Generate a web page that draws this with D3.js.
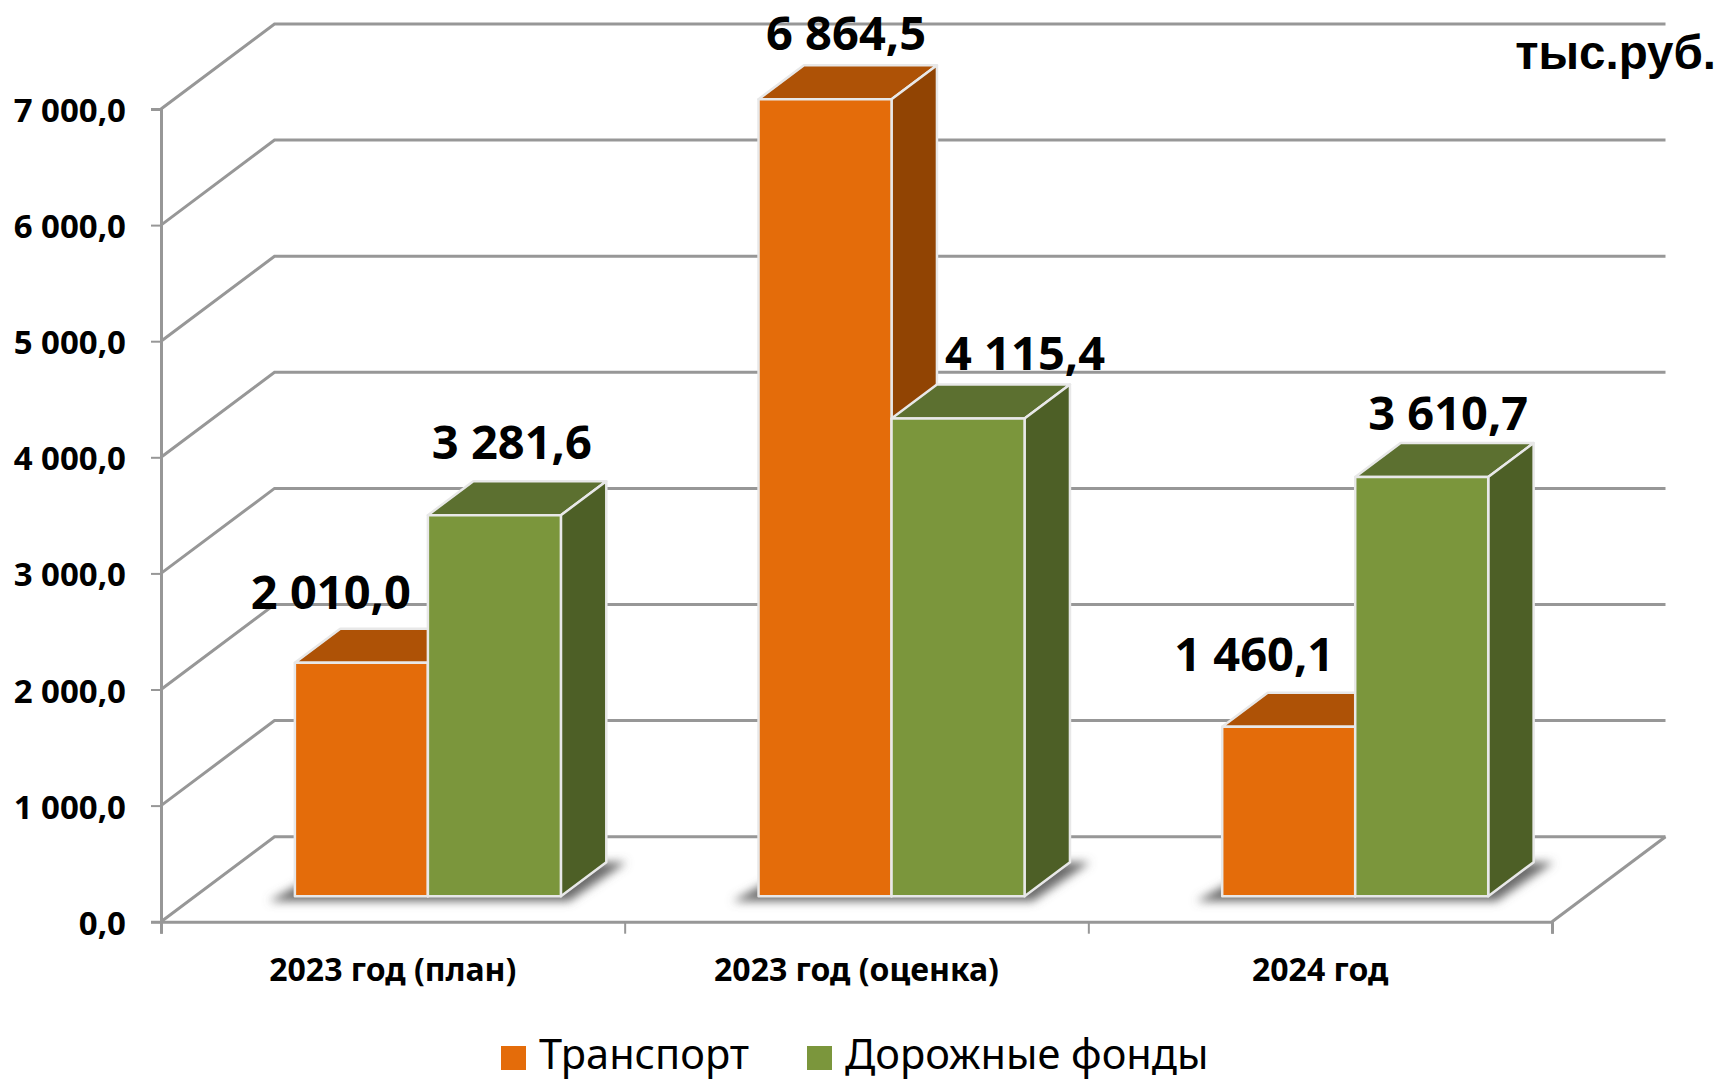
<!DOCTYPE html>
<html>

<head>
    <meta charset="utf-8">
    <title>Транспорт и дорожные фонды</title>
    <script src="https://d3js.org/d3.v7.min.js"></script>
    <style>
        body { margin: 0; background: #fff; }
        text { font-family: "Noto Sans", sans-serif; fill: #000; }
    </style>
</head>

<body>
    <div id="chart"></div>
    <script>
        const categories = ["2023 год (план)", "2023 год (оценка)", "2024 год"];
        const seriesNames = ["Транспорт", "Дорожные фонды"];
        const transport = [2010.0, 6864.5, 1460.1];
        const roadFunds = [3281.6, 4115.4, 3610.7];
        const yTicks = [0, 1000, 2000, 3000, 4000, 5000, 6000, 7000];

        const width = 1720, height = 1081;
        const floorDx = 113.5, floorDy = 85;      // глубина пола
        const frontDepth = 0.3, backDepth = 0.7;  // где стоят столбцы на полу
        const barNudge = 1;

        const colors = [
            { front: "#e46c0a", top: "#ae5206", side: "#914403" },
            { front: "#7b963c", top: "#5c7030", side: "#4d5f26" }
        ];
        // подписи в оригинале сдвинуты вручную: [dx от центра столбца, dy от верха]
        const labelShift = [
            [[-30.5, -54], [17.5, -56]],
            [[21, -49], [67, -48]],
            [[-34.5, -56], [26.5, -47]]
        ];

        const locale = d3.formatLocale({ decimal: ",", thousands: " ", grouping: [3], currency: ["", ""] });
        const fmt = locale.format(",.1f");

        const x = d3.scaleBand().domain(categories).range([161, 1552]).padding(0);
        const inner = d3.scaleBand().domain(seriesNames).range([0, x.bandwidth()])
            .paddingInner(0).paddingOuter(0.743);
        const y = d3.scaleLinear().domain([0, 7000]).range([921.7, 109]);
        const edges = d3.scalePoint().domain(d3.range(categories.length + 1)).range(x.range());

        const svg = d3.select("#chart").append("svg")
            .attr("width", width).attr("height", height)
            .style("display", "block");

        const blur = svg.append("defs").append("filter")
            .attr("id", "shadow").attr("x", "-30%").attr("y", "-60%")
            .attr("width", "160%").attr("height", "220%");
        blur.append("feGaussianBlur").attr("stdDeviation", 5);

        const gridColor = "#979797";
        const [x0, x1] = x.range();

        // 1. сетка: стена и левая боковина
        const grid = svg.append("g").attr("fill", "none").attr("stroke", gridColor).attr("stroke-width", 3);
        grid.selectAll("path")
            .data(yTicks)
            .enter()
            .append("path")
            .attr("d", d => {
                const p = d3.path();
                p.moveTo(x0, y(d));
                p.lineTo(x0 + floorDx, y(d) - floorDy);
                p.lineTo(x1 + floorDx, y(d) - floorDy);
                return p.toString();
            });
        // правый край пола
        grid.append("line")
            .attr("x1", x1).attr("y1", y(0))
            .attr("x2", x1 + floorDx).attr("y2", y(0) - floorDy);

        // 2. оси
        const yAxis = svg.append("g")
            .attr("transform", `translate(${x0},0)`)
            .call(d3.axisLeft(y).tickValues(yTicks).tickFormat(fmt).tickSize(10).tickPadding(25));
        yAxis.select(".domain").attr("stroke", gridColor).attr("stroke-width", 3);
        yAxis.selectAll(".tick line").attr("stroke", gridColor).attr("stroke-width", 2);
        yAxis.selectAll("text")
            .attr("font-size", 33).attr("font-weight", 700)
            .attr("dy", "0.38em");

        const xEdges = svg.append("g")
            .attr("transform", `translate(0,${y(0)})`)
            .call(d3.axisBottom(edges).tickSize(12).tickFormat(""));
        xEdges.select(".domain").attr("stroke", gridColor).attr("stroke-width", 3);
        xEdges.selectAll(".tick line").attr("stroke", gridColor).attr("stroke-width", 2);

        const xAxis = svg.append("g")
            .attr("transform", `translate(0,${y(0)})`)
            .call(d3.axisBottom(x).tickSize(0).tickPadding(37));
        xAxis.select(".domain").remove();
        xAxis.selectAll("text")
            .attr("font-size", 32).attr("font-weight", 700);

        // 3. столбцы
        const points = [];
        categories.forEach((c, i) => {
            [transport, roadFunds].forEach((values, s) => {
                points.push({ cat: c, i, s, value: values[i] });
            });
        });

        const dxFront = frontDepth * floorDx, dyFront = frontDepth * floorDy;
        const dxBack = (backDepth - frontDepth) * floorDx, dyBack = (backDepth - frontDepth) * floorDy;
        const poly = pts => "M" + pts.map(p => p.join(",")).join("L") + "Z";

        const bars = points.map(d => {
            const l = x(d.cat) + inner(seriesNames[d.s]) + dxFront + barNudge;
            const r = l + inner.bandwidth();
            return { ...d, l, r, base: y(0) - dyFront, top: y(d.value) - dyFront };
        });

        // тень на полу рисуем по парам столбцов
        const shadowLayer = svg.append("g").attr("filter", "url(#shadow)");
        shadowLayer.selectAll("path")
            .data(categories)
            .enter()
            .append("path")
            .attr("fill", "#6a6a6a")
            .attr("d", c => {
                const pair = bars.filter(b => b.cat === c);
                const l = pair[0].l, r = pair[1].r, b = pair[0].base;
                return poly([[l - 26, b + 5], [r + 8, b + 5], [r + dxBack + 20, b - dyBack], [l + dxBack, b - dyBack]]);
            });

        const barG = svg.selectAll(".bar")
            .data(bars)
            .enter()
            .append("g")
            .attr("class", "bar")
            .attr("stroke", "#e8e8e8")
            .attr("stroke-width", 2.5)
            .attr("stroke-linejoin", "round");

        barG.append("path")
            .attr("fill", d => colors[d.s].top)
            .attr("d", d => poly([[d.l, d.top], [d.r, d.top], [d.r + dxBack, d.top - dyBack], [d.l + dxBack, d.top - dyBack]]));
        barG.append("path")
            .attr("fill", d => colors[d.s].side)
            .attr("d", d => poly([[d.r, d.top], [d.r + dxBack, d.top - dyBack], [d.r + dxBack, d.base - dyBack], [d.r, d.base]]));
        barG.append("path")
            .attr("fill", d => colors[d.s].front)
            .attr("d", d => poly([[d.l, d.top], [d.r, d.top], [d.r, d.base], [d.l, d.base]]));

        // 4. подписи значений
        svg.selectAll(".value")
            .data(bars)
            .enter()
            .append("text")
            .attr("class", "value")
            .attr("text-anchor", "middle")
            .attr("font-size", 47)
            .attr("font-weight", 700)
            .attr("x", d => (d.l + d.r) / 2 + labelShift[d.i][d.s][0])
            .attr("y", d => d.top + labelShift[d.i][d.s][1])
            .text(d => fmt(d.value));

        // 5. легенда
        const legendX = [501, 807];
        const legend = svg.selectAll(".legend")
            .data(seriesNames)
            .enter()
            .append("g")
            .attr("class", "legend")
            .attr("transform", (d, i) => `translate(${legendX[i]},1046)`);
        legend.append("rect")
            .attr("width", 25).attr("height", 24)
            .attr("fill", (d, i) => colors[i].front);
        legend.append("text")
            .attr("x", 38).attr("y", 23)
            .attr("font-size", 41.5)
            .text(d => d);

        // 6. единицы измерения
        svg.append("text")
            .attr("x", 1716).attr("y", 69)
            .attr("text-anchor", "end")
            .style("font-family", '"Liberation Sans", Arial, sans-serif')
            .attr("font-size", 47.5)
            .attr("font-weight", 700)
            .text("тыс.руб.");
    </script>
</body>

</html>
